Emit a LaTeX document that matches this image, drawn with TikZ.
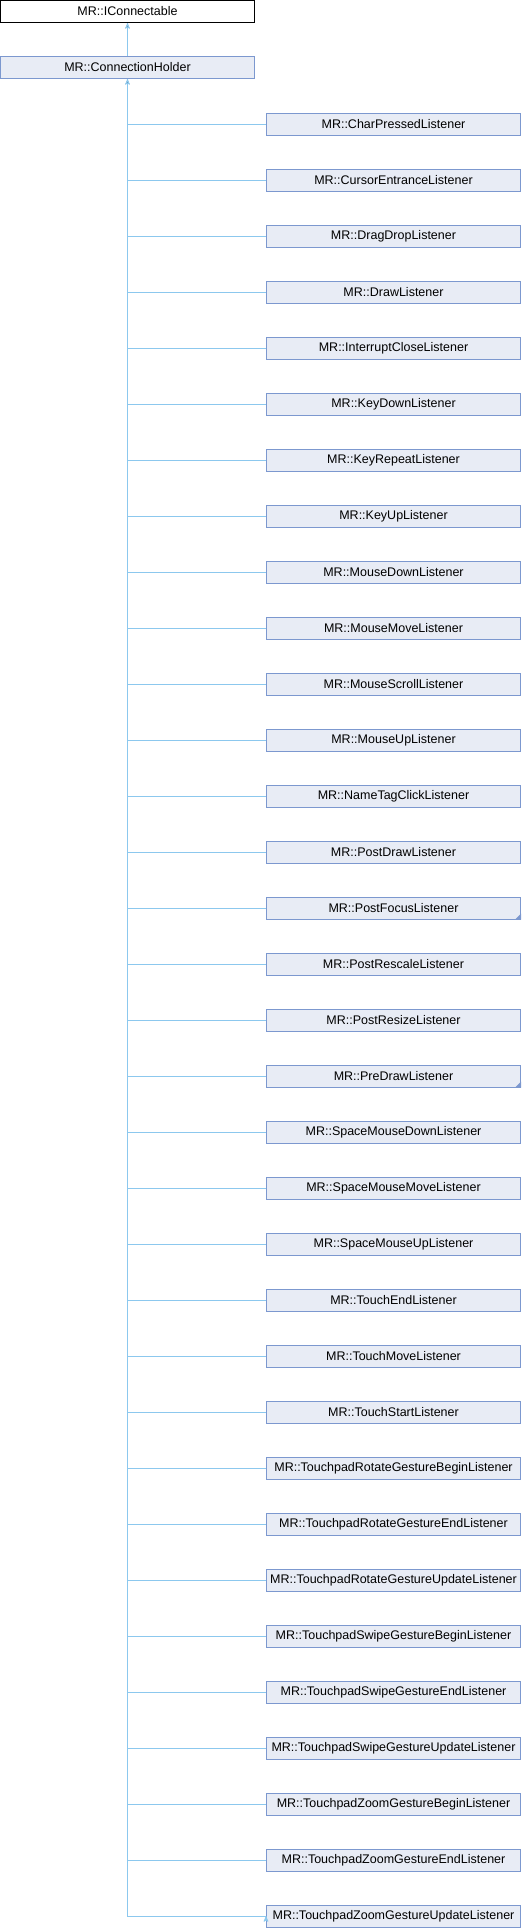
\documentclass[tikz,border=0pt]{standalone}
\usepackage{fontspec}
\setmainfont{Liberation Sans}
\usepackage{tikz}
\usetikzlibrary{arrows}
\definecolor{node_fill}{RGB}{232,236,245}
\definecolor{edge_node}{RGB}{124,152,207}
\definecolor{edge_link}{RGB}{140,200,238}

\begin{document}
\begin{tikzpicture}[->,>=stealth',x=1pt,y=-1pt,line width=1pt]
    \tikzstyle{cls}=[draw, rectangle, minimum width=254pt, minimum height=22pt, inner sep=0pt, text=black, font=\fontsize{12.5}{15}\selectfont]
    \tikzstyle{clsbase}=[style=cls, fill=white, draw=black]
    \tikzstyle{clsdoc}=[style=cls, fill=node_fill, draw=edge_node]
    \tikzstyle{inherit}=[draw=edge_link, line width=1pt]

    \useasboundingbox (0,0) rectangle (522,1928);

    \node[clsbase] (IC)  at (127.5,  11.5) {MR::IConnectable};
    \node[clsdoc]  (CH)  at (127.5,  67.5) {MR::ConnectionHolder};

    \node[clsdoc]  (CP)  at (393.5, 124) {MR::CharPressedListener};
    \node[clsdoc]  (CE)  at (393.5, 180) {MR::CursorEntranceListener};
    \node[clsdoc]  (DD)  at (393.5, 236) {MR::DragDropListener};
    \node[clsdoc]  (DR)  at (393.5, 292) {MR::DrawListener};
    \node[clsdoc]  (IN)  at (393.5, 348) {MR::InterruptCloseListener};
    \node[clsdoc]  (KD)  at (393.5, 404) {MR::KeyDownListener};
    \node[clsdoc]  (KR)  at (393.5, 460) {MR::KeyRepeatListener};
    \node[clsdoc]  (KU)  at (393.5, 516) {MR::KeyUpListener};
    \node[clsdoc]  (MD)  at (393.5, 572) {MR::MouseDownListener};
    \node[clsdoc]  (MM)  at (393.5, 628) {MR::MouseMoveListener};
    \node[clsdoc]  (MS)  at (393.5, 684) {MR::MouseScrollListener};
    \node[clsdoc]  (MU)  at (393.5, 740) {MR::MouseUpListener};
    \node[clsdoc]  (NT)  at (393.5, 796) {MR::NameTagClickListener};
    \node[clsdoc]  (PD)  at (393.5, 852) {MR::PostDrawListener};
    \node[clsdoc]  (PF)  at (393.5, 908) {MR::PostFocusListener};
    \node[clsdoc]  (PRS) at (393.5, 964) {MR::PostRescaleListener};
    \node[clsdoc]  (PRZ) at (393.5,1020) {MR::PostResizeListener};
    \node[clsdoc]  (PRD) at (393.5,1076) {MR::PreDrawListener};
    \node[clsdoc]  (SMD) at (393.5,1132) {MR::SpaceMouseDownListener};
    \node[clsdoc]  (SMM) at (393.5,1188) {MR::SpaceMouseMoveListener};
    \node[clsdoc]  (SMU) at (393.5,1244) {MR::SpaceMouseUpListener};
    \node[clsdoc]  (TE)  at (393.5,1300) {MR::TouchEndListener};
    \node[clsdoc]  (TM)  at (393.5,1356) {MR::TouchMoveListener};
    \node[clsdoc]  (TS)  at (393.5,1412) {MR::TouchStartListener};
    \node[clsdoc]  (TRB) at (393.5,1468) {MR::TouchpadRotateGestureBeginListener};
    \node[clsdoc]  (TRE) at (393.5,1524) {MR::TouchpadRotateGestureEndListener};
    \node[clsdoc]  (TRU) at (393.5,1580) {MR::TouchpadRotateGestureUpdateListener};
    \node[clsdoc]  (TSB) at (393.5,1636) {MR::TouchpadSwipeGestureBeginListener};
    \node[clsdoc]  (TSE) at (393.5,1692) {MR::TouchpadSwipeGestureEndListener};
    \node[clsdoc]  (TSU) at (393.5,1748) {MR::TouchpadSwipeGestureUpdateListener};
    \node[clsdoc]  (TZB) at (393.5,1804) {MR::TouchpadZoomGestureBeginListener};
    \node[clsdoc]  (TZE) at (393.5,1860) {MR::TouchpadZoomGestureEndListener};
    \node[clsdoc]  (TZU) at (393.5,1916) {MR::TouchpadZoomGestureUpdateListener};

    % corner marks of the two truncated boxes
    \fill[edge_node] (PF.south east) -- ++(-6,0) -- ++(6,-6) -- cycle;
    \fill[edge_node] (PRD.south east) -- ++(-6,0) -- ++(6,-6) -- cycle;

    \path[inherit]
     (CH) edge (IC)
     (TZU.west) edge[to path={-| (\tikztotarget)}] (CH.south);

    \path[inherit,-]
     (CP.west)  edge (CP.west -| CH.south)
     (CE.west)  edge (CE.west -| CH.south)
     (DD.west)  edge (DD.west -| CH.south)
     (DR.west)  edge (DR.west -| CH.south)
     (IN.west)  edge (IN.west -| CH.south)
     (KD.west)  edge (KD.west -| CH.south)
     (KR.west)  edge (KR.west -| CH.south)
     (KU.west)  edge (KU.west -| CH.south)
     (MD.west)  edge (MD.west -| CH.south)
     (MM.west)  edge (MM.west -| CH.south)
     (MS.west)  edge (MS.west -| CH.south)
     (MU.west)  edge (MU.west -| CH.south)
     (NT.west)  edge (NT.west -| CH.south)
     (PD.west)  edge (PD.west -| CH.south)
     (PF.west)  edge (PF.west -| CH.south)
     (PRS.west) edge (PRS.west -| CH.south)
     (PRZ.west) edge (PRZ.west -| CH.south)
     (PRD.west) edge (PRD.west -| CH.south)
     (SMD.west) edge (SMD.west -| CH.south)
     (SMM.west) edge (SMM.west -| CH.south)
     (SMU.west) edge (SMU.west -| CH.south)
     (TE.west)  edge (TE.west -| CH.south)
     (TM.west)  edge (TM.west -| CH.south)
     (TS.west)  edge (TS.west -| CH.south)
     (TRB.west) edge (TRB.west -| CH.south)
     (TRE.west) edge (TRE.west -| CH.south)
     (TRU.west) edge (TRU.west -| CH.south)
     (TSB.west) edge (TSB.west -| CH.south)
     (TSE.west) edge (TSE.west -| CH.south)
     (TSU.west) edge (TSU.west -| CH.south)
     (TZB.west) edge (TZB.west -| CH.south)
     (TZE.west) edge (TZE.west -| CH.south);
  \end{tikzpicture}
\end{document}
